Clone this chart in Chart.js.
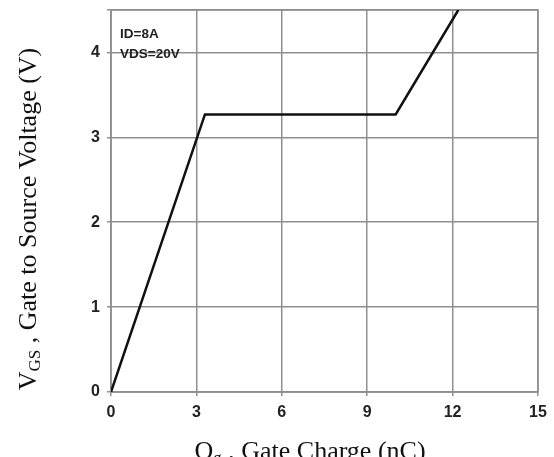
<!DOCTYPE html>
<html>
<head>
<meta charset="utf-8">
<script src="https://cdn.jsdelivr.net/npm/chart.js@4/dist/chart.umd.min.js"></script>
<style>
  html, body { margin: 0; padding: 0; background: #fff; }
  #wrap { width: 554px; height: 457px; }
</style>
</head>
<body>
<div id="wrap"><canvas id="gateChart"></canvas></div>
<script>
// gate charge curve
var qg = [0, 3.3, 10.0, 12.2];
var vgs = [0, 3.27, 3.27, 4.5];
var xTicks = [0, 3, 6, 9, 12, 15];
var yTicks = [0, 1, 2, 3, 4];
var yTop = 4.5;
var notes = ['ID=8A', 'VDS=20V'];

var points = qg.map(function (q, i) { return { x: q, y: vgs[i] }; });

var gridGrey = '#8f8f8f';

// box round the plot area (top and right edges)
var frame = {
    id: 'frame',
    beforeDatasetsDraw: function (chart) {
        var a = chart.chartArea;
        var c = chart.ctx;
        c.save();
        c.strokeStyle = gridGrey;
        c.lineWidth = 1.5;
        c.strokeRect(a.left, a.top, a.right - a.left, a.bottom - a.top);
        c.restore();
    }
};

// axis titles with subscripts, drawn after the chart
var axisText = {
    id: 'axisText',
    afterDraw: function (chart) {
        var ctx = chart.ctx;
        var area = chart.chartArea;
        ctx.save();
        ctx.fillStyle = '#111';
        ctx.textBaseline = 'alphabetic';

        // test conditions
        ctx.font = 'bold 13.5px "Liberation Sans", Arial, sans-serif';
        ctx.fillStyle = '#222';
        ctx.textAlign = 'left';
        ctx.fillText(notes[0], area.left + 9, 38);
        ctx.fillText(notes[1], area.left + 9, 58);
        ctx.fillStyle = '#111';

        function drawSub(main, sub, rest, cx, cy) {
            var big = '26px "Liberation Serif", "Times New Roman", serif';
            var small = '17px "Liberation Serif", "Times New Roman", serif';
            ctx.font = big;
            var w1 = ctx.measureText(main).width;
            var w3 = ctx.measureText(rest).width;
            ctx.font = small;
            var w2 = ctx.measureText(sub).width;
            var x = cx - (w1 + w2 + w3) / 2;
            ctx.textAlign = 'left';
            ctx.font = big;
            ctx.fillText(main, x, cy);
            ctx.font = small;
            ctx.fillText(sub, x + w1, cy + 4);
            ctx.font = big;
            ctx.fillText(rest, x + w1 + w2, cy);
        }

        ctx.save();
        ctx.translate(36, 219);
        ctx.rotate(-Math.PI / 2);
        drawSub('V', 'GS', ' , Gate to Source Voltage (V)', 0, 0);
        ctx.restore();

        drawSub('Q', 'g', ' , Gate Charge (nC)', 310, 459);
        ctx.restore();
    }
};

var ctx = document.getElementById('gateChart').getContext('2d');
var gateChart = new Chart(ctx, {
    type: 'scatter',
    data: {
        datasets: [{
            data: points,
            showLine: true,
            borderColor: '#111',
            borderWidth: 2.5,
            pointRadius: 0,
            tension: 0
        }]
    },
    options: {
        responsive: true,
        maintainAspectRatio: false,
        animation: false,
        layout: { padding: { left: 0, top: 10, right: 16, bottom: 0 } },
        plugins: {
            legend: { display: false },
            tooltip: { enabled: false }
        },
        scales: {
            x: {
                type: 'linear',
                min: 0,
                max: 15,
                afterBuildTicks: function (scale) {
                    scale.ticks = xTicks.map(function (v) { return { value: v }; });
                },
                afterFit: function (scale) {
                    scale.height = 65;
                    scale.paddingLeft = 0;
                    scale.paddingRight = 0;
                },
                grid: { color: gridGrey, lineWidth: 1.5, tickLength: 4 },
                border: { color: gridGrey, width: 1.5 },
                ticks: {
                    color: '#222',
                    padding: 7,
                    maxRotation: 0,
                    font: { family: '"Liberation Sans", Arial, sans-serif', size: 16, weight: 'bold' }
                }
            },
            y: {
                min: 0,
                max: yTop,
                afterBuildTicks: function (scale) {
                    scale.ticks = yTicks.concat([yTop]).map(function (v) { return { value: v }; });
                },
                ticks: {
                    color: '#222',
                    padding: 7,
                    font: { family: '"Liberation Sans", Arial, sans-serif', size: 16, weight: 'bold' },
                    callback: function (v) { return yTicks.indexOf(v) >= 0 ? v : ''; }
                },
                afterFit: function (scale) {
                    scale.width = 111;
                    scale.paddingTop = 0;
                    scale.paddingBottom = 0;
                },
                grid: { color: gridGrey, lineWidth: 1.5, tickLength: 4 },
                border: { color: gridGrey, width: 1.5 }
            }
        }
    },
    plugins: [frame, axisText]
});
</script>
</body>
</html>
